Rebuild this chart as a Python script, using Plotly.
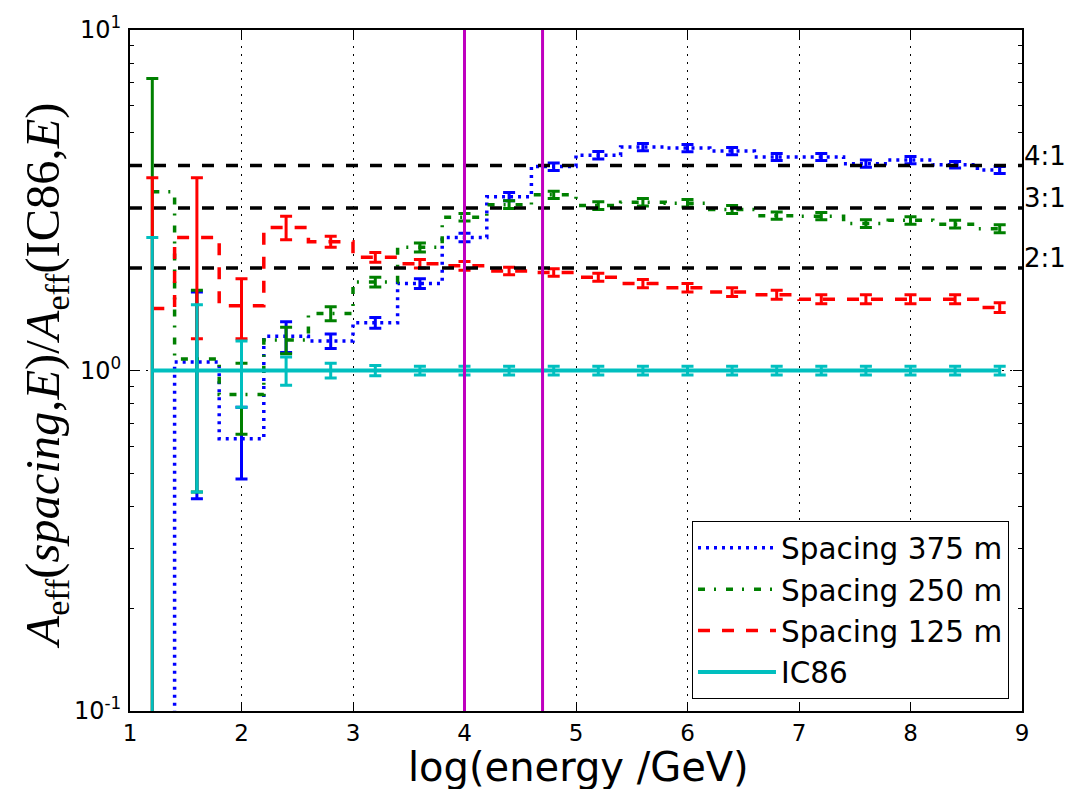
import math
import plotly.graph_objects as go

# ---------------- data ----------------
log_energy = [1.2, 1.6, 2.0, 2.4, 2.8, 3.2, 3.6, 4.0, 4.4, 4.8,
              5.2, 5.6, 6.0, 6.4, 6.8, 7.2, 7.6, 8.0, 8.4, 8.8]

ratio_375 = [0.01, 1.06, 0.63, 1.26, 1.22, 1.38, 1.80, 2.46, 3.24, 3.97,
             4.29, 4.53, 4.50, 4.41, 4.24, 4.24, 4.05, 4.15, 4.02, 3.88]
err_375 = [0.0, 0.64, 0.15, 0.13, 0.06, 0.05, 0.06, 0.07, 0.09, 0.10,
           0.11, 0.11, 0.11, 0.11, 0.10, 0.10, 0.10, 0.10, 0.09, 0.09]

ratio_250 = [3.35, 1.08, 0.85, 1.23, 1.47, 1.82, 2.30, 2.82, 3.07, 3.28,
             3.05, 3.12, 3.10, 2.97, 2.85, 2.84, 2.70, 2.76, 2.69, 2.61]
err_250 = [3.85, 0.64, 0.20, 0.11, 0.07, 0.06, 0.07, 0.07, 0.08, 0.08,
           0.08, 0.08, 0.08, 0.08, 0.07, 0.07, 0.07, 0.07, 0.07, 0.07]

ratio_125 = [1.52, 2.46, 1.55, 2.63, 2.39, 2.15, 2.06, 2.03, 1.96, 1.94,
             1.88, 1.80, 1.75, 1.70, 1.67, 1.62, 1.62, 1.62, 1.62, 1.53]
err_125 = [2.16, 1.22, 0.31, 0.21, 0.09, 0.07, 0.06, 0.06, 0.05, 0.05,
           0.05, 0.05, 0.05, 0.05, 0.05, 0.05, 0.05, 0.05, 0.05, 0.05]

ratio_ic86 = [1.0, 1.0, 1.0, 1.0, 1.0, 1.0, 1.0, 1.0, 1.0, 1.0,
              1.0, 1.0, 1.0, 1.0, 1.0, 1.0, 1.0, 1.0, 1.0, 1.0]
err_ic86 = [1.46, 0.56, 0.22, 0.095, 0.05, 0.035, 0.03, 0.03, 0.03, 0.03,
            0.03, 0.03, 0.03, 0.03, 0.03, 0.03, 0.03, 0.03, 0.03, 0.03]

series_names = ["Spacing 375 m", "Spacing 250 m", "Spacing 125 m", "IC86"]

ratio_levels = [4, 3, 2]
ratio_labels = ["4:1", "3:1", "2:1"]
threshold_log_energy = [4.0, 4.7]

x_ticks = [1, 2, 3, 4, 5, 6, 7, 8, 9]
y_ticks = [0.1, 1, 10]
y_tick_text = ["10<sup>-1</sup>", "10<sup>0</sup>", "10<sup>1</sup>"]
y_minor_ticks = [0.2, 0.3, 0.4, 0.5, 0.6, 0.7, 0.8, 0.9,
                 2, 3, 4, 5, 6, 7, 8, 9]

# ---------------- styles ----------------
BLUE = "#0000ff"
GREEN = "#008000"
RED = "#ff0000"
CYAN = "#00bfbf"
MAGENTA = "#bf00bf"
SANS = "DejaVu Sans"

styles = [
    dict(color=BLUE, dash="3px,5px", width=3.5),
    dict(color=GREEN, dash="7px,9px,2px,10px", width=3.5),
    dict(color=RED, dash="12px,12px", width=3.5),
    dict(color=CYAN, dash="solid", width=4),
]
values = [ratio_375, ratio_250, ratio_125, ratio_ic86]
errors = [err_375, err_250, err_125, err_ic86]

fig = go.Figure()
for name, yv, ev, st in zip(series_names, values, errors, styles):
    fig.add_trace(go.Scatter(
        x=log_energy, y=yv, name=name, mode="lines",
        line=dict(shape="hvh", color=st["color"], dash=st["dash"], width=st["width"]),
        error_y=dict(type="data", array=ev, visible=True, color=st["color"],
                     thickness=3, width=6),
    ))

shapes = []
for lvl in ratio_levels:
    shapes.append(dict(type="line", xref="x", yref="y", x0=x_ticks[0], x1=x_ticks[-1],
                       y0=lvl, y1=lvl, layer="above",
                       line=dict(color="black", width=3.5, dash="12px,12px")))
for xe in threshold_log_energy:
    shapes.append(dict(type="line", xref="x", yref="paper", x0=xe, x1=xe,
                       y0=0, y1=1, layer="above",
                       line=dict(color=MAGENTA, width=3)))

annotations = []
for lvl, lab in zip(ratio_levels, ratio_labels):
    annotations.append(dict(text=lab, xref="paper", yref="y", x=1.0, y=math.log10(lvl),
                            xanchor="left", yanchor="middle", xshift=0, yshift=10,
                            showarrow=False, font=dict(family=SANS, size=26, color="black")))
annotations.append(dict(text="log(energy /GeV)", xref="paper", yref="paper",
                        x=0.503, y=-0.082, xanchor="center", yanchor="middle",
                        showarrow=False, font=dict(family=SANS, size=40, color="black")))
annotations.append(dict(
    text="<i>A</i><sub>eff</sub>(<i>spacing</i>,<i>E</i>)/<i>A</i><sub>eff</sub>(IC86,<i>E</i>)",
    xref="paper", yref="paper", x=-0.094, y=0.493, xanchor="center", yanchor="middle",
    textangle=-90, showarrow=False,
    font=dict(family="Liberation Serif", size=48.5, color="black")))

fig.update_layout(
    width=1069, height=789,
    margin=dict(l=130, r=47, t=21, b=78),
    paper_bgcolor="white", plot_bgcolor="white",
    shapes=shapes, annotations=annotations,
    showlegend=True,
    legend=dict(x=0.9854, y=0.0174, xanchor="right", yanchor="bottom",
                bgcolor="white", bordercolor="black", borderwidth=1,
                font=dict(family=SANS, size=29.5, color="black"),
                itemwidth=78, traceorder="normal"),
)
fig.update_xaxes(
    range=[1, 9], tickmode="array", tickvals=x_ticks, ticktext=[str(t) for t in x_ticks],
    ticks="inside", ticklen=9, tickwidth=1, tickcolor="black",
    showline=True, linewidth=2, linecolor="black", mirror="ticks",
    showgrid=True, gridcolor="black", gridwidth=1, griddash="2px,6px",
    zeroline=False, layer="above traces", ticklabelstandoff=0,
    tickfont=dict(family=SANS, size=23, color="black"),
)
fig.update_yaxes(
    type="log", range=[-1, 1], tickmode="array", tickvals=y_ticks, ticktext=y_tick_text,
    ticks="inside", ticklen=9, tickwidth=1, tickcolor="black",
    minor=dict(tickmode="array", tickvals=y_minor_ticks, ticks="inside", ticklen=4,
               tickcolor="black", showgrid=False),
    showline=True, linewidth=2, linecolor="black", mirror="ticks",
    showgrid=True, gridcolor="black", gridwidth=1, griddash="2px,6px",
    zeroline=False, layer="above traces", ticklabelstandoff=2,
    tickfont=dict(family=SANS, size=24, color="black"),
)

fig.write_html("out.html", config={"displayModeBar": False},
               post_script="document.body.style.margin='0';")
